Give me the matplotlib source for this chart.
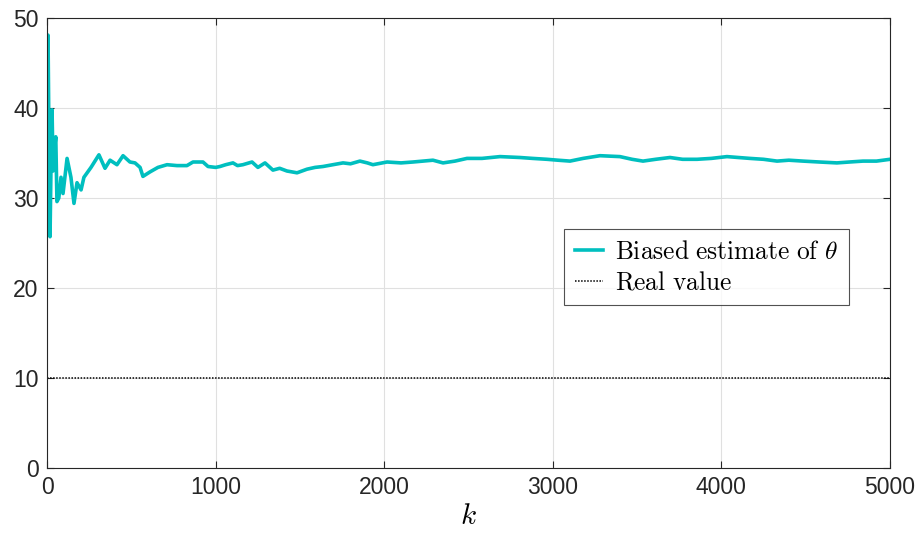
import matplotlib
matplotlib.use("Agg")
import matplotlib.pyplot as plt

k_pts = [1, 6, 12, 18, 24, 30, 36, 42, 52, 59, 70, 83, 95, 119, 142, 160, 178, 202, 219, 261,
         308, 344, 374, 415, 451, 492, 522, 552, 569, 611, 658, 712, 771, 830, 866, 925, 955,
         1000, 1026, 1060, 1103, 1130, 1162, 1216, 1251, 1293, 1340, 1380, 1423, 1483, 1542,
         1590, 1637, 1696, 1756, 1800, 1856, 1900, 1933, 2017, 2100, 2171, 2230, 2289, 2349,
         2420, 2491, 2580, 2687, 2805, 2880, 2966, 3030, 3102, 3180, 3280, 3398, 3470, 3535,
         3610, 3695, 3770, 3855, 3940, 4033, 4100, 4169, 4250, 4330, 4400, 4484, 4580, 4685,
         4760, 4840, 4920, 5000]
est_pts = [40, 48.1, 36, 25.7, 34, 39.8, 33, 35, 36.8, 29.6, 30.0, 32.3, 30.5, 34.4, 32.3,
           29.4, 31.7, 30.9, 32.3, 33.4, 34.8, 33.3, 34.2, 33.7, 34.7, 34.0, 33.9, 33.4, 32.4,
           32.9, 33.4, 33.7, 33.6, 33.6, 34.0, 34.0, 33.5, 33.4, 33.5, 33.7, 33.9, 33.6, 33.7,
           34.0, 33.4, 33.9, 33.1, 33.3, 33.0, 32.8, 33.2, 33.4, 33.5, 33.7, 33.9, 33.8, 34.1,
           33.9, 33.7, 34.0, 33.9, 34.0, 34.1, 34.2, 33.9, 34.1, 34.4, 34.4, 34.6, 34.5, 34.4,
           34.3, 34.2, 34.1, 34.4, 34.7, 34.6, 34.3, 34.1, 34.3, 34.5, 34.3, 34.3, 34.4, 34.6,
           34.5, 34.4, 34.3, 34.1, 34.2, 34.1, 34.0, 33.9, 34.0, 34.1, 34.1, 34.3]
real_value = 10
x_ticks = [0, 1000, 2000, 3000, 4000, 5000]
y_ticks = [0, 10, 20, 30, 40, 50]

plt.rcParams['mathtext.fontset'] = 'cm'

fig = plt.figure(figsize=(9.22, 5.39), dpi=100)
ax = fig.add_axes([47/922, 1-468/539, (890-47)/922, (468-18)/539])

ax.plot(k_pts, est_pts, color='#00BFBF', lw=2.6, label=r'$\mathrm{Biased\ estimate\ of\ }\theta$')
ax.plot([0, 5000], [real_value, real_value], color='black', lw=1.1, ls=(0, (1, 1)),
        label=r'$\mathrm{Real\ value}$')

ax.set_xlim(0, 5000)
ax.set_ylim(0, 50)
ax.set_xticks(x_ticks)
ax.set_yticks(y_ticks)
ax.grid(True, color='#e0e0e0', lw=0.8)
ax.set_axisbelow(True)
for s in ax.spines.values():
    s.set_color('#262626')
    s.set_linewidth(0.8)
ax.tick_params(direction='in', top=True, right=True, length=5, width=0.8,
               colors='#262626', labelsize=16.5, pad=6)
for lab in ax.get_xticklabels() + ax.get_yticklabels():
    lab.set_family('Liberation Sans')
ax.set_xlabel(r'$k$', fontsize=21, labelpad=2)

leg = ax.legend(loc='upper left', bbox_to_anchor=((564-47)/843, (468-229)/450),
                fontsize=18.3, frameon=True, fancybox=False, edgecolor='#262626',
                handlelength=1.1, borderpad=0.42, labelspacing=0.28, handletextpad=0.5,
                borderaxespad=0)
leg.get_frame().set_linewidth(0.8)

fig.savefig('out.png', dpi=100)
